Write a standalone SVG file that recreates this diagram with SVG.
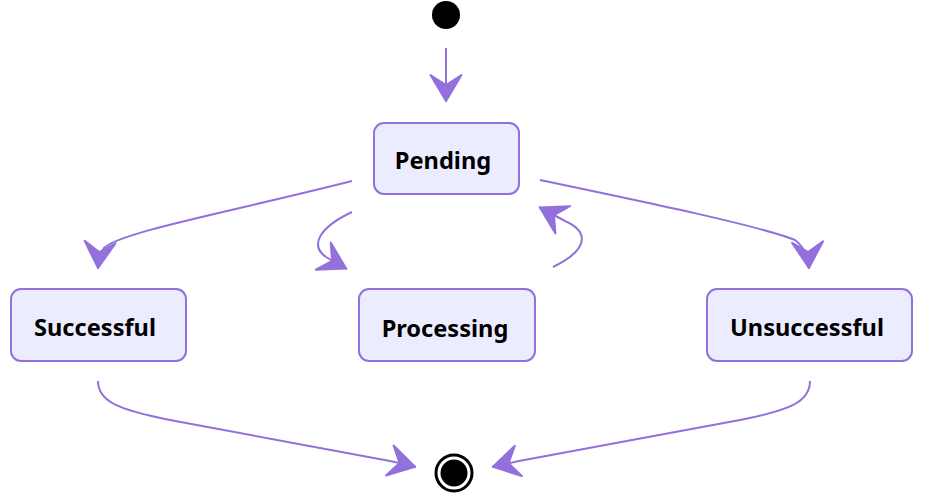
<svg xmlns="http://www.w3.org/2000/svg" width="928" height="498" viewBox="0 0 928 498">
<style>
.node rect{fill:#ECECFF;stroke:#9370DB;stroke-width:2}
.node text{font-family:"Noto Sans","Open Sans","DejaVu Sans",sans-serif;font-weight:bold;font-size:23.6px;fill:#000;text-anchor:middle}
.edge{fill:none;stroke:#9370DB;stroke-width:2;marker-end:url(#barb)}
</style>
<defs>
<marker id="barb" viewBox="-2 -2 32 37" refX="28" refY="16.5" markerWidth="32" markerHeight="37" markerUnits="userSpaceOnUse" orient="auto">
<path d="M27,16.5 L1,32 L11,16.5 L1,1 Z" fill="#9370DB" stroke="#9370DB" stroke-width="2" stroke-linejoin="round"/>
</marker>
</defs>
<g id="connectors">
<path class="edge" d="M446,48 L446,102"/>
<path class="edge" d="M352,181 C230,212 120,232 104,248 Q99,256 98,269"/>
<path class="edge" d="M352,212 C318,228 310,246 326,257 Q336,263 347,269"/>
<path class="edge" d="M553,267 C588,250 590,232 565,221 Q552,214 539,207"/>
<path class="edge" d="M540,180 C650,203 760,226 795,240 Q808,250 809,269"/>
<path class="edge" d="M98,381 C98,402 120,410 170,420 L390,461 Q404,464 416,467"/>
<path class="edge" d="M810,381 C810,402 790,410 740,420 L519,461 Q505,464 492,467"/>
</g>
<g id="start"><circle cx="446" cy="15" r="14" fill="#000"/></g>
<g id="pending" class="node"><rect x="374" y="123" width="145" height="71" rx="10"/><text x="443" y="169">Pending</text></g>
<g id="successful" class="node"><rect x="11" y="289" width="175" height="72" rx="10"/><text x="95" y="336">Successful</text></g>
<g id="processing" class="node"><rect x="359" y="289" width="176" height="72" rx="10"/><text x="445" y="337">Processing</text></g>
<g id="unsuccessful" class="node"><rect x="707" y="289" width="205" height="72" rx="10"/><text x="807" y="336">Unsuccessful</text></g>
<g id="end"><circle cx="454" cy="473" r="18" fill="#fff" stroke="#000" stroke-width="3"/><circle cx="454" cy="473" r="13.5" fill="#000"/></g>
</svg>
